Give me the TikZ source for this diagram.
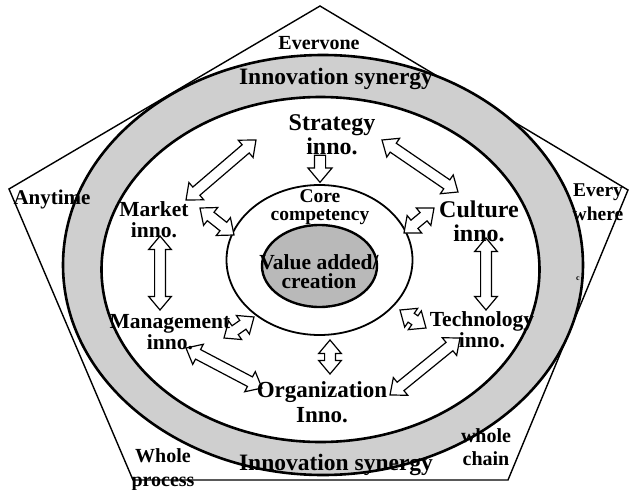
\documentclass[tikz,border=0pt]{standalone}
\usepackage{fontspec}
\setmainfont{Liberation Serif}
\usetikzlibrary{shapes.arrows,calc}

\tikzset{
  lbl/.style={font=\bfseries, align=center, inner sep=0pt},
  fbig/.style={font=\bfseries\fontsize{24}{24}\selectfont},
  fmid/.style={font=\bfseries\fontsize{21.5}{21}\selectfont},
  fsml/.style={font=\bfseries\fontsize{20}{24}\selectfont},
  syn/.style={font=\bfseries\fontsize{23.5}{24}\selectfont, inner sep=0pt},
  dbl/.style={double arrow, draw, fill=white, line width=1.2pt,
    inner xsep=0pt, inner ysep=4.8pt, double arrow head extend=6pt,
    double arrow tip angle=80, anchor=center},
  sgl/.style={single arrow, draw, fill=white, line width=1.2pt,
    inner xsep=0pt, inner ysep=5pt, single arrow head extend=6.5pt,
    single arrow tip angle=80, anchor=center},
}

% hollow block arrow between two named points
\newcommand\twoway[2]{%
  \path let \p1=($(#2)-(#1)$), \n1={veclen(\x1,\y1)} in
    (#1) -- (#2) node[midway, sloped, dbl, minimum height=\n1]{};}
\newcommand\oneway[2]{%
  \path let \p1=($(#2)-(#1)$), \n1={veclen(\x1,\y1)} in
    (#1) -- (#2) node[midway, sloped, sgl, minimum height=\n1]{};}

\begin{document}
\begin{tikzpicture}[x=1pt, y=-1pt]
\useasboundingbox (0,0) rectangle (630,490);

% outer pentagon
\coordinate (pTop) at (320,6);
\coordinate (pL) at (9,189);
\coordinate (pR) at (628,190);
\coordinate (pBR) at (508,480);
\coordinate (pBL) at (133,480);
\draw[line width=1.4pt, line join=miter] (pTop) -- (pR) -- (pBR) -- (pBL) -- (pL) -- cycle;

% synergy ring
\fill[gray!38] (323,265) ellipse [x radius=260, y radius=210];
\draw[line width=2.6pt] (323,265) ellipse [x radius=260, y radius=210];
\draw[line width=2.6pt, fill=white] (320.5,269.5) ellipse [x radius=219, y radius=172.5];

% core competency and value core
\draw[line width=1.8pt, fill=white] (319.5,260) ellipse [x radius=93, y radius=75];
\draw[line width=2.4pt, fill=gray!55] (319.5,266) ellipse [x radius=57.5, y radius=41];

% arrow end points
\coordinate (sm1) at (256,140); \coordinate (sm2) at (186,200);
\coordinate (sc1) at (382,140); \coordinate (sc2) at (458,192);
\coordinate (sd1) at (320,152); \coordinate (sd2) at (320,179);
\coordinate (mk1) at (200,208); \coordinate (mk2) at (234,235);
\coordinate (cu1) at (434,208); \coordinate (cu2) at (404,233);
\coordinate (mm1) at (160,236); \coordinate (mm2) at (160,310);
\coordinate (ct1) at (486,238); \coordinate (ct2) at (486,310);
\coordinate (mg1) at (224,338); \coordinate (mg2) at (254,317);
\coordinate (tc1) at (426,328); \coordinate (tc2) at (400,310);
\coordinate (mo1) at (186,348); \coordinate (mo2) at (262,388);
\coordinate (to1) at (460,338); \coordinate (to2) at (390,395);
\coordinate (oc1) at (330,374); \coordinate (oc2) at (330,340);

\twoway{sm1}{sm2}
\twoway{sc1}{sc2}
\oneway{sd1}{sd2}
\twoway{mk1}{mk2}
\twoway{cu1}{cu2}
\twoway{mm1}{mm2}
\twoway{ct1}{ct2}
\twoway{mg1}{mg2}
\twoway{tc1}{tc2}
\twoway{mo1}{mo2}
\twoway{to1}{to2}
\twoway{oc1}{oc2}

% labels
\node[lbl, fsml] (evr) at (319,43) {Evervone};
\node[syn] (syntop) at (336,79) {Innovation synergy};
\node[syn] (synbot) at (336,465) {Innovation synergy};
\node[lbl, fbig] (strat) at (332,135) {Strategy\\inno.};
\node[lbl, font=\bfseries\fontsize{19.5}{18}\selectfont] (core) at (320,207) {Core\\competency};
\node[lbl, font=\bfseries\fontsize{21.5}{19}\selectfont] (value) at (319,272) {Value added/\\creation};
\node[lbl, fmid] (market) at (154,220) {Market\\inno.};
\node[lbl, fbig] (culture) at (479,221) {Culture\\inno.};
\node[lbl, fmid] (mgmt) at (170,332) {Management\\inno.};
\node[lbl, fmid] (tech) at (482,330) {Technology\\inno.};
\node[lbl, font=\bfseries\fontsize{23}{25}\selectfont] (org) at (322,402) {Organization\\Inno.};
\node[lbl, font=\bfseries\fontsize{21}{21}\selectfont] (any) at (52,199) {Anytime};
\node[lbl, font=\bfseries\fontsize{19.5}{24}\selectfont] (every) at (598,202) {Every\\where};
\node[lbl, font=\bfseries\fontsize{8}{8}\selectfont] (strayc) at (578,279) {c};
\node[lbl, fsml] (whole) at (163,470) {Whole\\process};
\node[lbl, font=\bfseries\fontsize{20}{23}\selectfont] (chain) at (486,447) {whole\\chain};
\end{tikzpicture}
\end{document}
